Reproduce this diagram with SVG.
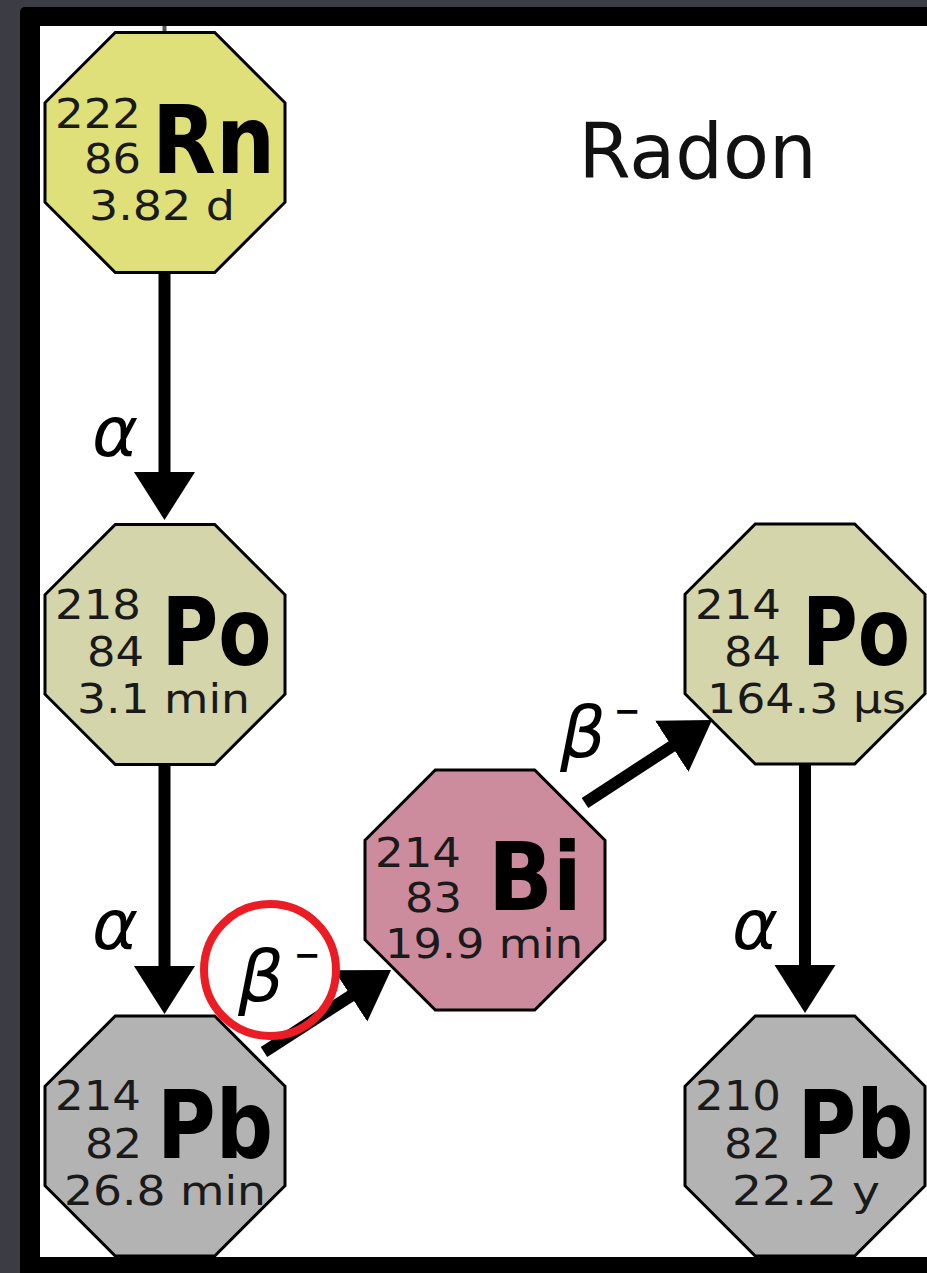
<svg xmlns="http://www.w3.org/2000/svg" width="927" height="1273" viewBox="0 0 927 1273">
  <style>
    .oct { stroke: #000; stroke-width: 3; stroke-linejoin: miter; }
    .rn { fill: #dfe07a; }
    .po { fill: #d5d5ab; }
    .bi { fill: #cd8c9e; }
    .pb { fill: #b3b3b3; }
    .num { font-family: "DejaVu Sans", "Verdana", sans-serif; font-size: 41px; fill: #1a1a1a; }
    .mass, .atom { text-anchor: end; }
    .hl { text-anchor: middle; }
    .sym { font-family: "DejaVu Sans", "Verdana", sans-serif; font-size: 95px; font-weight: bold; fill: #000; text-anchor: middle; }
    .lab { font-family: "DejaVu Sans", "Verdana", sans-serif; font-style: italic; fill: #000; }
    .alpha { font-size: 70px; text-anchor: middle; }
    .beta { font-size: 72px; }
    .minus { font-size: 32px; font-style: normal; font-weight: bold; }
    .shaft { stroke: #000; stroke-width: 12; fill: none; marker-end: url(#head); }
    .title { font-family: "DejaVu Sans", "Verdana", sans-serif; font-size: 76px; fill: #111; }
  </style>
  <defs>
    <polygon id="octagon" points="-49.7,-120 49.7,-120 120,-49.7 120,49.7 49.7,120 -49.7,120 -120,49.7 -120,-49.7"/>
    <marker id="head" markerUnits="userSpaceOnUse" markerWidth="52" markerHeight="64" viewBox="0 0 52 64" refX="2" refY="32" orient="auto">
      <path d="M0,1.5 L48,32 L0,62.5 Z" fill="#000"/>
    </marker>
  </defs>

  <!-- background and frame -->
  <rect x="0" y="0" width="927" height="1273" fill="#3b3c44"/>
  <rect x="20" y="7" width="930" height="1290" rx="5" fill="#000"/>
  <rect x="40" y="26" width="900" height="1231" fill="#fff"/>

  <text class="title" x="578.6" y="178" textLength="238" lengthAdjust="spacingAndGlyphs">Radon</text>

  <!-- connectors -->
  <g id="connectors">
    <line x1="164.5" y1="26" x2="164.5" y2="33" stroke="#555" stroke-width="4"/>
    <line class="shaft" x1="164.5" y1="273" x2="164.5" y2="474"/>
    <line class="shaft" x1="164.5" y1="765" x2="164.5" y2="968"/>
    <line class="shaft" x1="805" y1="763" x2="805" y2="967"/>
    <line class="shaft" x1="264" y1="1052" x2="352.4" y2="994.9"/>
    <line class="shaft" x1="585" y1="803" x2="673.5" y2="745.2"/>
    <text class="lab alpha" x="115" y="456">α</text>
    <text class="lab alpha" x="115" y="949">α</text>
    <text class="lab alpha" x="755" y="949">α</text>
    <text class="lab beta" x="560" y="757">β<tspan class="minus" x="614" y="722">−</tspan></text>
    <text class="lab beta" x="238" y="1001">β<tspan class="minus" x="294" y="966">−</tspan></text>
    <circle cx="270" cy="970" r="66" fill="none" stroke="#ec1c24" stroke-width="8"/>
  </g>

  <g id="rn222" transform="translate(165,152.5)">
    <use href="#octagon" class="oct rn"/>
    <text class="num mass" x="-24" y="-24.5" textLength="86" lengthAdjust="spacingAndGlyphs">222</text>
    <text class="num atom" x="-24" y="20.5" textLength="57" lengthAdjust="spacingAndGlyphs">86</text>
    <text class="num hl" x="-3" y="67.5" textLength="146" lengthAdjust="spacingAndGlyphs">3.82 d</text>
    <text class="sym" x="48.5" y="20.5" textLength="123" lengthAdjust="spacingAndGlyphs">Rn</text>
  </g>

  <g id="po218" transform="translate(165,644.5)">
    <use href="#octagon" class="oct po"/>
    <text class="num mass" x="-24" y="-25.5" textLength="86" lengthAdjust="spacingAndGlyphs">218</text>
    <text class="num atom" x="-21" y="21.5" textLength="57" lengthAdjust="spacingAndGlyphs">84</text>
    <text class="num hl" x="-1.5" y="68.5" textLength="173" lengthAdjust="spacingAndGlyphs">3.1 min</text>
    <text class="sym" x="51.5" y="20.5" textLength="110" lengthAdjust="spacingAndGlyphs">Po</text>
  </g>

  <g id="pb214" transform="translate(165,1136)">
    <use href="#octagon" class="oct pb"/>
    <text class="num mass" x="-24" y="-26" textLength="86" lengthAdjust="spacingAndGlyphs">214</text>
    <text class="num atom" x="-23" y="22" textLength="57" lengthAdjust="spacingAndGlyphs">82</text>
    <text class="num hl" x="0" y="69" textLength="202" lengthAdjust="spacingAndGlyphs">26.8 min</text>
    <text class="sym" x="50" y="22" textLength="116" lengthAdjust="spacingAndGlyphs">Pb</text>
  </g>

  <g id="bi214" transform="translate(485,890)">
    <use href="#octagon" class="oct bi"/>
    <text class="num mass" x="-24" y="-23" textLength="86" lengthAdjust="spacingAndGlyphs">214</text>
    <text class="num atom" x="-23" y="22" textLength="57" lengthAdjust="spacingAndGlyphs">83</text>
    <text class="num hl" x="-1" y="68" textLength="198" lengthAdjust="spacingAndGlyphs">19.9 min</text>
    <text class="sym" x="50" y="20" textLength="94" lengthAdjust="spacingAndGlyphs">Bi</text>
  </g>

  <g id="po214" transform="translate(805,644)">
    <use href="#octagon" class="oct po"/>
    <text class="num mass" x="-24" y="-25" textLength="86" lengthAdjust="spacingAndGlyphs">214</text>
    <text class="num atom" x="-24" y="22" textLength="57" lengthAdjust="spacingAndGlyphs">84</text>
    <text class="num hl" x="1.5" y="69" textLength="199" lengthAdjust="spacingAndGlyphs">164.3 µs</text>
    <text class="sym" x="51" y="21" textLength="108" lengthAdjust="spacingAndGlyphs">Po</text>
  </g>

  <g id="pb210" transform="translate(805,1136)">
    <use href="#octagon" class="oct pb"/>
    <text class="num mass" x="-24" y="-26" textLength="86" lengthAdjust="spacingAndGlyphs">210</text>
    <text class="num atom" x="-24" y="22" textLength="57" lengthAdjust="spacingAndGlyphs">82</text>
    <text class="num hl" x="1" y="69" textLength="148" lengthAdjust="spacingAndGlyphs">22.2 y</text>
    <text class="sym" x="50.5" y="22" textLength="116" lengthAdjust="spacingAndGlyphs">Pb</text>
  </g>
</svg>
